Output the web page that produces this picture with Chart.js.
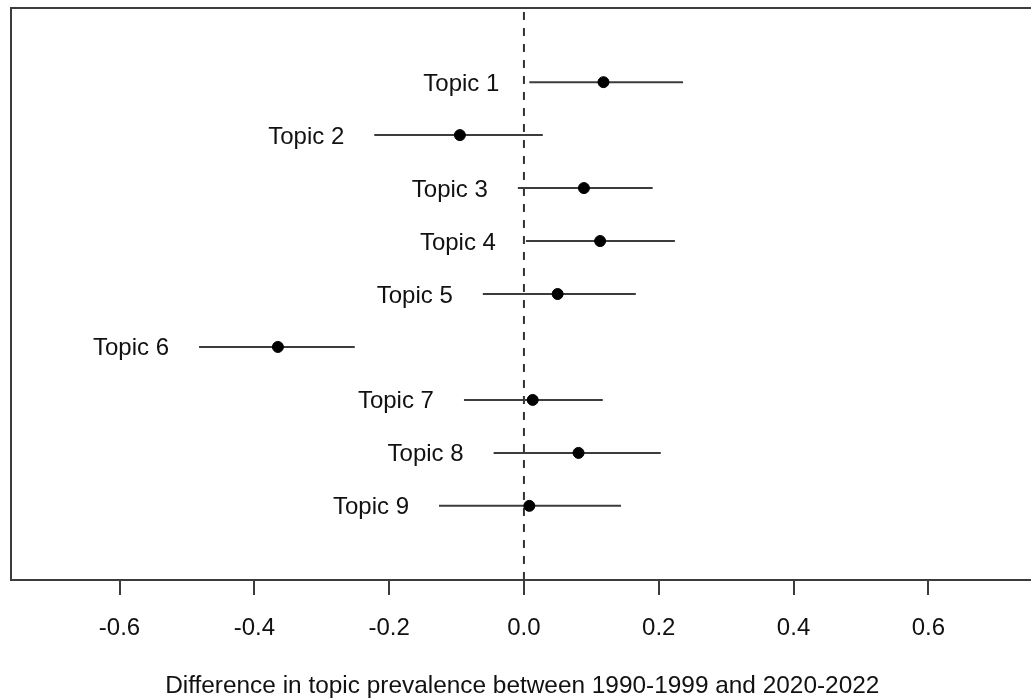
<!DOCTYPE html>
<html>
<head>
<meta charset="utf-8">
<script src="https://cdn.jsdelivr.net/npm/chart.js@4/dist/chart.umd.min.js"></script>
<style>
  html, body { margin: 0; padding: 0; background: #fff; overflow: hidden; }
  #wrap { width: 1040px; height: 698px; }
</style>
</head>
<body>
<div id="wrap"><canvas id="effects" width="1040" height="698"></canvas></div>
<script>
// topic prevalence differences with 95% intervals
const topics = ['Topic 1', 'Topic 2', 'Topic 3', 'Topic 4', 'Topic 5', 'Topic 6', 'Topic 7', 'Topic 8', 'Topic 9'];
const estimates = [0.118, -0.095, 0.089, 0.113, 0.050, -0.365, 0.013, 0.081, 0.008];
const lower = [0.008, -0.222, -0.009, 0.003, -0.061, -0.482, -0.089, -0.045, -0.126];
const upper = [0.236, 0.028, 0.191, 0.224, 0.166, -0.251, 0.117, 0.203, 0.144];
const tickValues = [-0.6, -0.4, -0.2, 0.0, 0.2, 0.4, 0.6];

const FONT = "'Liberation Sans', Arial, Helvetica, sans-serif";
const INK = '#3c3c3c';

const intervalSets = topics.map((t, i) => ({
  type: 'line',
  data: [{ x: lower[i], y: i + 1 }, { x: upper[i], y: i + 1 }],
  borderColor: INK,
  borderWidth: 2,
  pointRadius: 0,
  order: 2
}));

// label text to the left of each interval, plus the plot frame
const extras = {
  id: 'extras',
  afterDatasetsDraw(chart) {
    const { ctx, chartArea: a, scales: { x, y } } = chart;
    ctx.save();
    ctx.font = '24px ' + FONT;
    ctx.fillStyle = '#111';
    ctx.textAlign = 'right';
    ctx.textBaseline = 'alphabetic';
    topics.forEach((t, i) => {
      ctx.fillText(t, x.getPixelForValue(lower[i]) - 30, y.getPixelForValue(i + 1) + 8.5);
    });
    ctx.strokeStyle = INK;
    ctx.lineWidth = 2;
    ctx.strokeRect(a.left, a.top, a.right - a.left, a.bottom - a.top);
    ctx.restore();
  }
};

new Chart('effects', {
  type: 'scatter',
  data: {
    datasets: [
      {
        type: 'line',
        data: [{ x: 0, y: -0.4 }, { x: 0, y: 10.4 }],
        borderColor: '#333',
        borderWidth: 2,
        borderDash: [8, 8],
        borderDashOffset: 12,
        pointRadius: 0,
        order: 3
      },
      ...intervalSets,
      {
        data: topics.map((t, i) => ({ x: estimates[i], y: i + 1 })),
        backgroundColor: '#000',
        borderColor: '#000',
        pointRadius: 5.5,
        order: 1
      }
    ]
  },
  options: {
    responsive: false,
    animation: false,
    layout: { padding: { left: 11, top: 8, right: 6, bottom: 0 } },
    plugins: { legend: { display: false }, tooltip: { enabled: false } },
    scales: {
      x: {
        type: 'linear',
        min: -0.761,
        max: 0.756,
        afterFit(scale) { scale.height = 118; },
        afterBuildTicks(scale) { scale.ticks = tickValues.map(v => ({ value: v })); },
        border: { display: false },
        grid: { drawOnChartArea: false, tickLength: 15, color: INK, lineWidth: 2 },
        ticks: {
          padding: 19,
          maxRotation: 0,
          color: '#111',
          font: { family: FONT, size: 24 },
          callback: v => v.toFixed(1)
        },
        title: {
          display: true,
          text: 'Difference in topic prevalence between 1990-1999 and 2020-2022',
          color: '#111',
          font: { family: FONT, size: 24.4, lineHeight: 1.0 },
          padding: { top: 0, bottom: 0 }
        }
      },
      y: {
        type: 'linear',
        display: false,
        reverse: true,
        min: -0.4,
        max: 10.4
      }
    }
  },
  plugins: [extras]
});
</script>
</body>
</html>
